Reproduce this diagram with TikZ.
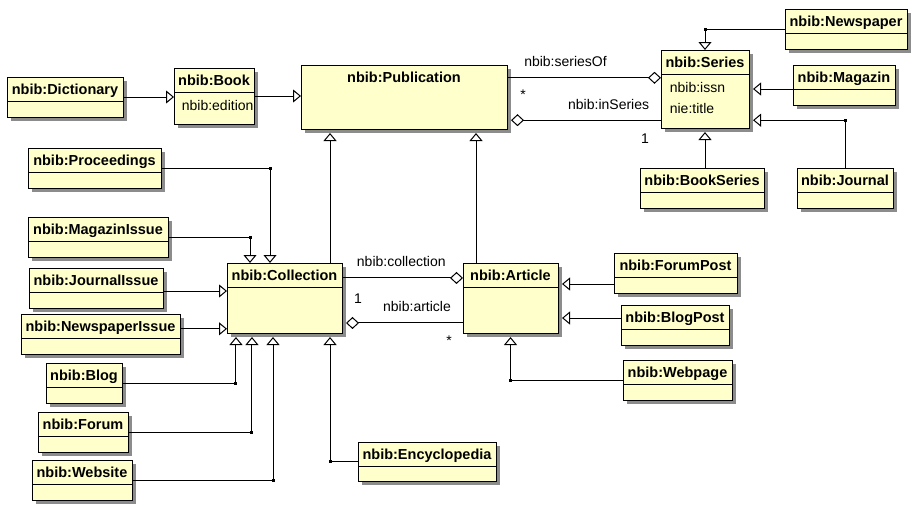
\documentclass[tikz,border=0pt]{standalone}
\usepackage{fontspec}
\setmainfont{Liberation Sans}
\usetikzlibrary{positioning, calc, arrows.meta, shadows}
\definecolor{umlfill}{RGB}{255,255,204}
\tikzset{
	cls/.style={draw, fill=umlfill, anchor=north west, inner sep=0, outer sep=0,
		drop shadow={shadow xshift=3.5pt, shadow yshift=-3.5pt, fill=black!45, opacity=1}},
	tname/.style={font=\fontsize{14.5}{17}\selectfont\bfseries, anchor=base},
	attr/.style={font=\fontsize{14}{17}\selectfont, anchor=base west},
	lbl/.style={font=\fontsize{14}{17}\selectfont, anchor=base},
}
\begin{document}
\begin{tikzpicture}[x=1pt, y=-1pt, line width=1pt,
	gen/.style={-{Triangle[open, width=13pt, length=8pt, fill=white]}},
	gens/.style={gen, shorten >=4pt},
	agg/.style={-{Diamond[open, width=12pt, length=13pt, fill=white]}},
	aggs/.style={agg, shorten >=4pt},
	jdot/.style={fill, inner sep=0, minimum size=3pt}]
\fill[white] (0,0) rectangle (916,506);
\useasboundingbox (0,0) rectangle (916,506);
\node[cls, minimum width=206pt, minimum height=64pt] (pub) at (301,65) {};
\node[tname] (pubt) at ($(pub.north)+(0,17)$) {nbib:Publication};
\foreach \n/\x/\y/\w/\h/\t in {dict/7/77/116/40/Dictionary, book/174/68/80/56/Book,
	series/661/50/88/78/Series, news/785/9/122/40/Newspaper, mag/793/65/102/40/Magazin,
	bser/640/168/124/40/BookSeries, jour/797/168/96/40/Journal,
	proc/28/148/133/40/Proceedings, magi/28/217/140/40/MagazinIssue,
	jouri/29/268/134/40/JournalIssue, newsi/21/314/159/40/NewspaperIssue,
	blog/46/363/76/40/Blog, forum/38/412/90/40/Forum, web/32/460/100/40/Website,
	coll/227/263/115/70/Collection, ency/358/442/138/39/Encyclopedia,
	art/463/263/95/70/Article, fpost/614/253/123/40/ForumPost,
	bpost/621/305/108/40/BlogPost, wpage/623/360/109/40/Webpage} {
	\node[cls, minimum width=\w pt, minimum height=\h pt] (\n) at (\x,\y) {};
	\node[tname] (\n t) at ($(\n.north)+(0,17)$) {nbib:\t};
	\draw ($(\n.north west)+(0,24)$) -- ($(\n.north east)+(0,24)$);
}
\node[attr] (bedit) at ($(book.north west)+(4,42)$) {nbib:edition};
\node[attr] (sissn) at ($(series.north west)+(5,42)$) {nbib:issn};
\node[attr] (stitle) at ($(series.north west)+(5,63)$) {nie:title};

\draw[gen] (dict.east) -- (dict.east -| book.west);
\draw[gen] (book.east) -- (book.east -| pub.west);

\coordinate (ps) at ($(pub.north east)!0.2!(pub.south east)$);
\draw[agg] (ps) -- (ps -| series.west) node[lbl, pos=0.38, yshift=11pt] (lso) {nbib:seriesOf};
\coordinate (sp) at ($(series.north west)!0.9!(series.south west)$);
\draw[aggs] (sp) -- (sp -| pub.east) node[lbl, pos=0.34, yshift=11pt] (lis) {nbib:inSeries};
\node[lbl] (mps) at ($(pub.north east)+(16,34)$) {*};
\node[lbl] (msp) at ($(series.south west)+(-16,15)$) {1};

\draw[gen] (news.west) -| node[jdot] (dnews) {} (series.north);
\draw[gens] (mag.west |- series.east) -- (series.east);
\coordinate (sj) at (sp -| series.east);
\draw[gens] (jour.north) |- node[jdot] (djour) {} (sj);
\draw[gens] (series.south |- bser.north) -- (series.south);

\foreach \c/\p in {proc/0.374, magi/0.2}
	\draw[gen] (\c.east) -| node[jdot] (d\c) {} ($(coll.north west)!\p!(coll.north east)$);
\foreach \c/\p in {blog/0.078, forum/0.217, web/0.4}
	\draw[gens] (\c.east) -| node[jdot] (d\c) {} ($(coll.south west)!\p!(coll.south east)$);
\draw[gens] (ency.west) -| node[jdot] (dency) {} ($(coll.south west)!0.896!(coll.south east)$);
\foreach \c/\p in {jouri/0.4, newsi/0.94} {
	\coordinate (\c p) at ($(coll.north west)!\p!(coll.south west)$);
	\draw[gen] (\c.east |- \c p) -- (\c p);
}

\coordinate (cp) at ($(coll.north west)!0.896!(coll.north east)$);
\draw[gens] (cp) -- (cp |- pub.south);
\coordinate (ap) at ($(art.north west)!0.137!(art.north east)$);
\draw[gens] (ap) -- (ap |- pub.south);

\coordinate (ca) at ($(coll.north east)!0.214!(coll.south east)$);
\draw[agg] (ca) -- (ca -| art.west) node[lbl, pos=0.49, yshift=11pt] (lcol) {nbib:collection};
\coordinate (ac) at ($(art.north west)!0.857!(art.south west)$);
\draw[aggs] (ac) -- (ac -| coll.east) node[lbl, pos=0.38, yshift=11pt] (lart) {nbib:article};
\node[lbl] (mca) at ($(coll.north east)+(16,40)$) {1};
\node[lbl] (mac) at ($(art.south west)+(-14,12)$) {*};

\foreach \c/\p in {fpost/0.3, bpost/0.786} {
	\coordinate (\c p) at ($(art.north east)!\p!(art.south east)$);
	\draw[gens] (\c.west |- \c p) -- (\c p);
}
\draw[gens] (wpage.west) -| node[jdot] (dwpage) {} (art.south);
\end{tikzpicture}
\end{document}
